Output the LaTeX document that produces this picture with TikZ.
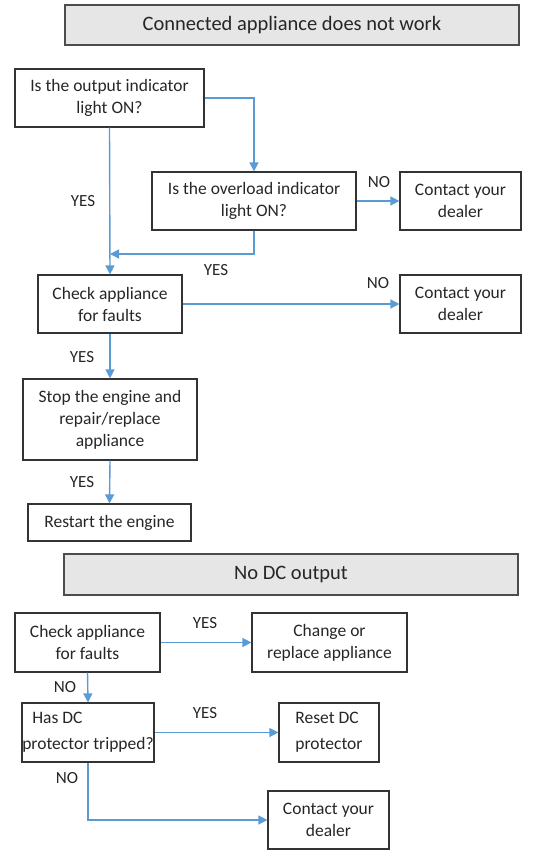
\documentclass[tikz,border=0pt]{standalone}
\usepackage{fontspec}
\setmainfont{Carlito}
\usetikzlibrary{arrows.meta}
\definecolor{arrblue}{HTML}{5B9BD5}
\definecolor{txt}{HTML}{262626}
\definecolor{titlefill}{HTML}{E6E6E6}
\tikzset{
  box/.style={draw=black!80, line width=1.2pt, inner sep=0pt, align=center,
    font=\fontsize{17.5}{22}\selectfont, text=txt},
  titlebox/.style={box, fill=titlefill, draw=black!70, font=\fontsize{20.5}{24}\selectfont},
  arr/.style={draw=arrblue, line width=1.4pt, -{Triangle[length=9pt,width=9pt]}},
  lbl/.style={font=\fontsize{17}{20}\selectfont, text=txt, inner sep=0pt}
}
\begin{document}
\begin{tikzpicture}[x=1pt,y=-1pt]
\useasboundingbox (0,0) rectangle (542,850);
% section 1
\node[titlebox, minimum width=454pt, minimum height=40pt] (t1) at (292,25) {Connected appliance does not work};
\node[box, minimum width=189pt, minimum height=58pt] (A) at (109.5,98) {Is the output indicator\\light ON?};
\node[box, minimum width=204pt, minimum height=58pt] (B) at (254,201) {Is the overload indicator\\light ON?};
\node[box, minimum width=121pt, minimum height=58pt] (C) at (460.5,201) {Contact your\\dealer};
\node[box, minimum width=144pt, minimum height=58pt] (D) at (110,304) {Check appliance\\for faults};
\node[box, minimum width=121pt, minimum height=58pt] (E) at (460.5,304) {Contact your\\dealer};
\node[box, minimum width=174pt, minimum height=81pt] (F) at (110,419.5) {Stop the engine and\\repair/replace\\appliance};
\node[box, minimum width=163pt, minimum height=37pt] (G) at (109.5,522.5) {Restart the engine};
\coordinate (j1) at (110,254);
\draw[arr] (A.east) -| (B.north);
\draw[arr] (A.south) -- (D.north);
\draw[arr] (B.south) |- (j1);
\draw[arr] (B.east) -- (C.west);
\draw[arr] (D.east) -- (E.west);
\draw[arr] (D.south) -- (F.north);
\draw[arr] (F.south) -- (G.north);
\node[lbl] (l1) at (83,201) {YES};
\node[lbl] (l2) at (216,270) {YES};
\node[lbl] (l3) at (379,182) {NO};
\node[lbl] (l4) at (378,283) {NO};
\node[lbl] (l5) at (82,357) {YES};
\node[lbl] (l6) at (82,482) {YES};
% section 2
\node[titlebox, minimum width=454pt, minimum height=41pt] (t2) at (291,574.5) {No DC output};
\node[box, minimum width=145pt, minimum height=59pt] (H) at (87.5,642.5) {Check appliance\\for faults};
\node[box, minimum width=155pt, minimum height=59pt] (I) at (329.5,642.5) {Change or\\replace appliance};
\node[box, minimum width=132pt, minimum height=59pt, align=left] (J) at (88,732.5) {\hspace*{10pt}Has DC\\[4pt]protector tripped?};
\node[box, minimum width=100pt, minimum height=59pt, align=left] (K) at (329,732.5) {Reset DC\\[4pt]protector};
\node[box, minimum width=121pt, minimum height=58pt] (L) at (328.5,820) {Contact your\\dealer};
\draw[arr] (H.east) -- (I.west);
\draw[arr] (H.south) -- (J.north);
\draw[arr] (J.east) -- (K.west);
\draw[arr] (J.south) |- (L.west);
\node[lbl] (l7) at (205,623) {YES};
\node[lbl] (l8) at (65,687) {NO};
\node[lbl] (l9) at (205,713) {YES};
\node[lbl] (l10) at (67,778) {NO};
\end{tikzpicture}
\end{document}
